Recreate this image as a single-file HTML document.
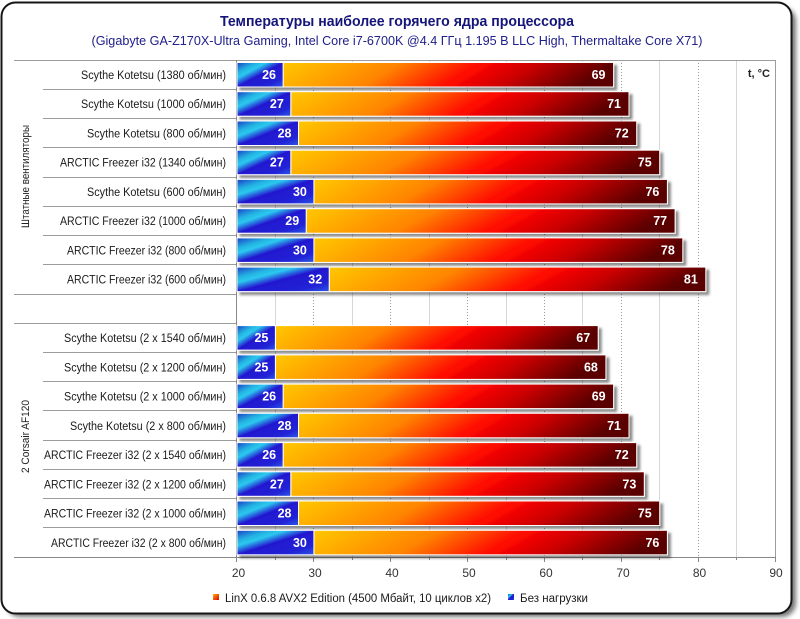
<!DOCTYPE html>
<html><head><meta charset="utf-8"><style>
html,body{margin:0;padding:0;background:#fff;}
svg{display:block;}
text{font-family:"Liberation Sans","DejaVu Sans",sans-serif;}
</style></head><body>
<svg width="800" height="619" viewBox="0 0 800 619" xmlns="http://www.w3.org/2000/svg">
<defs>
<filter id="fs" x="-5%" y="-5%" width="115%" height="115%"><feGaussianBlur stdDeviation="2.5"/></filter>
<filter id="sh" x="-5%" y="-20%" width="115%" height="160%"><feDropShadow dx="3" dy="3" stdDeviation="1.2" flood-color="#000" flood-opacity="0.45"/></filter>
<linearGradient id="gb" x1="0" y1="0" x2="1" y2="1">
<stop offset="0" stop-color="#1a3ec8"/>
<stop offset="0.22" stop-color="#24b4e2"/>
<stop offset="0.32" stop-color="#2cc8ee"/>
<stop offset="0.5" stop-color="#2418d0"/>
<stop offset="0.8" stop-color="#2222d6"/>
<stop offset="1" stop-color="#2c58e8"/>
</linearGradient>
<linearGradient id="go" x1="0" y1="0" x2="1" y2="0.12">
<stop offset="0" stop-color="#ffc800"/>
<stop offset="0.35" stop-color="#ff8400"/>
<stop offset="0.6" stop-color="#ff0800"/>
<stop offset="0.76" stop-color="#cc0000"/>
<stop offset="1" stop-color="#5a0000"/>
</linearGradient>
<linearGradient id="gl" x1="0" y1="0" x2="1" y2="1">
<stop offset="0" stop-color="#ffb000"/><stop offset="1" stop-color="#e00000"/>
</linearGradient>
</defs>

<!-- frame -->
<rect x="6" y="7" width="790" height="610" rx="14" fill="#777" filter="url(#fs)"/>
<rect x="1.5" y="2.5" width="790" height="611" rx="14" fill="#fff" stroke="#151515" stroke-width="2"/>

<!-- title -->
<text x="397" y="26" text-anchor="middle" font-size="14.5" font-weight="bold" fill="#14147a" textLength="354" lengthAdjust="spacingAndGlyphs">Температуры наиболее горячего ядра процессора</text>
<text x="397" y="45" text-anchor="middle" font-size="13" fill="#20208c" textLength="611" lengthAdjust="spacingAndGlyphs">(Gigabyte GA-Z170X-Ultra Gaming, Intel Core i7-6700K @4.4 ГГц 1.195 В LLC High, Thermaltake Core X71)</text>

<!-- grid -->
<g stroke="#d6d6d6" stroke-width="1">
<line x1="275.5" y1="60" x2="275.5" y2="557"/>
<line x1="352.5" y1="60" x2="352.5" y2="557"/>
<line x1="429.5" y1="60" x2="429.5" y2="557"/>
<line x1="506.5" y1="60" x2="506.5" y2="557"/>
<line x1="582.5" y1="60" x2="582.5" y2="557"/>
<line x1="659.5" y1="60" x2="659.5" y2="557"/>
<line x1="736.5" y1="60" x2="736.5" y2="557"/>
</g>
<g stroke="#9a9a9a" stroke-width="1" stroke-dasharray="1 2">
<line x1="313.5" y1="60" x2="313.5" y2="557"/>
<line x1="390.5" y1="60" x2="390.5" y2="557"/>
<line x1="467.5" y1="60" x2="467.5" y2="557"/>
<line x1="544.5" y1="60" x2="544.5" y2="557"/>
<line x1="621.5" y1="60" x2="621.5" y2="557"/>
<line x1="698.5" y1="60" x2="698.5" y2="557"/>
</g>

<!-- frame lines -->
<g stroke="#9c9c9c" stroke-width="1">
<line x1="14" y1="60.5" x2="775.5" y2="60.5"/>
<line x1="775.5" y1="60" x2="775.5" y2="557"/>
<line x1="14" y1="294.5" x2="237" y2="294.5"/>
<line x1="14" y1="323.5" x2="237" y2="323.5"/>
<line x1="43" y1="89.5" x2="237" y2="89.5"/>
<line x1="43" y1="118.5" x2="237" y2="118.5"/>
<line x1="43" y1="147.5" x2="237" y2="147.5"/>
<line x1="43" y1="177.5" x2="237" y2="177.5"/>
<line x1="43" y1="206.5" x2="237" y2="206.5"/>
<line x1="43" y1="235.5" x2="237" y2="235.5"/>
<line x1="43" y1="264.5" x2="237" y2="264.5"/>
<line x1="43" y1="352.5" x2="237" y2="352.5"/>
<line x1="43" y1="381.5" x2="237" y2="381.5"/>
<line x1="43" y1="410.5" x2="237" y2="410.5"/>
<line x1="43" y1="440.5" x2="237" y2="440.5"/>
<line x1="43" y1="469.5" x2="237" y2="469.5"/>
<line x1="43" y1="498.5" x2="237" y2="498.5"/>
<line x1="43" y1="527.5" x2="237" y2="527.5"/>
</g>
<g stroke="#888" stroke-width="1">
<line x1="14" y1="557.5" x2="775.5" y2="557.5"/>
<line x1="236.5" y1="60" x2="236.5" y2="562"/>
<line x1="313.5" y1="557" x2="313.5" y2="562"/>
<line x1="390.5" y1="557" x2="390.5" y2="562"/>
<line x1="467.5" y1="557" x2="467.5" y2="562"/>
<line x1="544.5" y1="557" x2="544.5" y2="562"/>
<line x1="621.5" y1="557" x2="621.5" y2="562"/>
<line x1="698.5" y1="557" x2="698.5" y2="562"/>
<line x1="775.5" y1="557" x2="775.5" y2="562"/>
<line x1="275.5" y1="557" x2="275.5" y2="560"/>
<line x1="352.5" y1="557" x2="352.5" y2="560"/>
<line x1="429.5" y1="557" x2="429.5" y2="560"/>
<line x1="506.5" y1="557" x2="506.5" y2="560"/>
<line x1="582.5" y1="557" x2="582.5" y2="560"/>
<line x1="659.5" y1="557" x2="659.5" y2="560"/>
<line x1="736.5" y1="557" x2="736.5" y2="560"/>
</g>

<!-- t, °C -->
<text x="770" y="77" text-anchor="end" font-size="11" font-weight="bold" fill="#222">t, °C</text>

<!-- group labels -->
<text transform="translate(29,176.5) rotate(-90)" text-anchor="middle" font-size="11" fill="#222" textLength="103" lengthAdjust="spacingAndGlyphs">Штатные  вентиляторы</text>
<text transform="translate(29,436.5) rotate(-90)" text-anchor="middle" font-size="11" fill="#222" textLength="73" lengthAdjust="spacingAndGlyphs">2  Corsair  AF120</text>

<!-- category labels -->
<g font-size="11.5" fill="#1a1a1a" text-anchor="end" lengthAdjust="spacingAndGlyphs">
<text x="226" y="79" textLength="145" lengthAdjust="spacingAndGlyphs">Scythe Kotetsu (1380 об/мин)</text>
<text x="226" y="108.2" textLength="145" lengthAdjust="spacingAndGlyphs">Scythe Kotetsu (1000 об/мин)</text>
<text x="226" y="137.5" textLength="139" lengthAdjust="spacingAndGlyphs">Scythe Kotetsu (800 об/мин)</text>
<text x="226" y="166.7" textLength="166" lengthAdjust="spacingAndGlyphs">ARCTIC Freezer i32 (1340 об/мин)</text>
<text x="226" y="195.9" textLength="139" lengthAdjust="spacingAndGlyphs">Scythe Kotetsu (600 об/мин)</text>
<text x="226" y="225.2" textLength="166" lengthAdjust="spacingAndGlyphs">ARCTIC Freezer i32 (1000 об/мин)</text>
<text x="226" y="254.4" textLength="159" lengthAdjust="spacingAndGlyphs">ARCTIC Freezer i32 (800 об/мин)</text>
<text x="226" y="283.6" textLength="159" lengthAdjust="spacingAndGlyphs">ARCTIC Freezer i32 (600 об/мин)</text>
<text x="226" y="342.1" textLength="162" lengthAdjust="spacingAndGlyphs">Scythe Kotetsu (2 x 1540 об/мин)</text>
<text x="226" y="371.4" textLength="162" lengthAdjust="spacingAndGlyphs">Scythe Kotetsu (2 x 1200 об/мин)</text>
<text x="226" y="400.6" textLength="162" lengthAdjust="spacingAndGlyphs">Scythe Kotetsu (2 x 1000 об/мин)</text>
<text x="226" y="429.8" textLength="156" lengthAdjust="spacingAndGlyphs">Scythe Kotetsu (2 x 800 об/мин)</text>
<text x="226" y="459.1" textLength="182" lengthAdjust="spacingAndGlyphs">ARCTIC Freezer i32 (2 x 1540 об/мин)</text>
<text x="226" y="488.3" textLength="182" lengthAdjust="spacingAndGlyphs">ARCTIC Freezer i32 (2 x 1200 об/мин)</text>
<text x="226" y="517.5" textLength="182" lengthAdjust="spacingAndGlyphs">ARCTIC Freezer i32 (2 x 1000 об/мин)</text>
<text x="226" y="546.8" textLength="175" lengthAdjust="spacingAndGlyphs">ARCTIC Freezer i32 (2 x 800 об/мин)</text>
</g>

<!-- bars -->
<g stroke="#fff" stroke-width="1">
<g filter="url(#sh)"><rect x="283.1" y="62.5" width="330.5" height="24.5" fill="url(#go)"/><rect x="237" y="62.5" width="46.1" height="24.5" fill="url(#gb)"/></g>
<g filter="url(#sh)"><rect x="290.8" y="91.7" width="338.2" height="24.5" fill="url(#go)"/><rect x="237" y="91.7" width="53.8" height="24.5" fill="url(#gb)"/></g>
<g filter="url(#sh)"><rect x="298.5" y="121" width="338.2" height="24.5" fill="url(#go)"/><rect x="237" y="121" width="61.5" height="24.5" fill="url(#gb)"/></g>
<g filter="url(#sh)"><rect x="290.8" y="150.2" width="368.9" height="24.5" fill="url(#go)"/><rect x="237" y="150.2" width="53.8" height="24.5" fill="url(#gb)"/></g>
<g filter="url(#sh)"><rect x="313.9" y="179.4" width="353.5" height="24.5" fill="url(#go)"/><rect x="237" y="179.4" width="76.9" height="24.5" fill="url(#gb)"/></g>
<g filter="url(#sh)"><rect x="306.2" y="208.7" width="368.9" height="24.5" fill="url(#go)"/><rect x="237" y="208.7" width="69.2" height="24.5" fill="url(#gb)"/></g>
<g filter="url(#sh)"><rect x="313.9" y="237.9" width="368.9" height="24.5" fill="url(#go)"/><rect x="237" y="237.9" width="76.9" height="24.5" fill="url(#gb)"/></g>
<g filter="url(#sh)"><rect x="329.2" y="267.1" width="376.6" height="24.5" fill="url(#go)"/><rect x="237" y="267.1" width="92.2" height="24.5" fill="url(#gb)"/></g>
<g filter="url(#sh)"><rect x="275.4" y="325.6" width="322.8" height="24.5" fill="url(#go)"/><rect x="237" y="325.6" width="38.4" height="24.5" fill="url(#gb)"/></g>
<g filter="url(#sh)"><rect x="275.4" y="354.9" width="330.5" height="24.5" fill="url(#go)"/><rect x="237" y="354.9" width="38.4" height="24.5" fill="url(#gb)"/></g>
<g filter="url(#sh)"><rect x="283.1" y="384.1" width="330.5" height="24.5" fill="url(#go)"/><rect x="237" y="384.1" width="46.1" height="24.5" fill="url(#gb)"/></g>
<g filter="url(#sh)"><rect x="298.5" y="413.3" width="330.5" height="24.5" fill="url(#go)"/><rect x="237" y="413.3" width="61.5" height="24.5" fill="url(#gb)"/></g>
<g filter="url(#sh)"><rect x="283.1" y="442.6" width="353.6" height="24.5" fill="url(#go)"/><rect x="237" y="442.6" width="46.1" height="24.5" fill="url(#gb)"/></g>
<g filter="url(#sh)"><rect x="290.8" y="471.8" width="353.5" height="24.5" fill="url(#go)"/><rect x="237" y="471.8" width="53.8" height="24.5" fill="url(#gb)"/></g>
<g filter="url(#sh)"><rect x="298.5" y="501" width="361.2" height="24.5" fill="url(#go)"/><rect x="237" y="501" width="61.5" height="24.5" fill="url(#gb)"/></g>
<g filter="url(#sh)"><rect x="313.9" y="530.3" width="353.5" height="24.5" fill="url(#go)"/><rect x="237" y="530.3" width="76.9" height="24.5" fill="url(#gb)"/></g>
</g>

<!-- bar values -->
<g font-size="12.5" font-weight="bold" fill="#fff" text-anchor="end">
<text x="276" y="79">26</text><text x="605.5" y="79">69</text>
<text x="283.8" y="108.2">27</text><text x="621" y="108.2">71</text>
<text x="291.5" y="137.5">28</text><text x="628.7" y="137.5">72</text>
<text x="283.8" y="166.7">27</text><text x="651.7" y="166.7">75</text>
<text x="306.9" y="195.9">30</text><text x="659.4" y="195.9">76</text>
<text x="299.2" y="225.2">29</text><text x="667.1" y="225.2">77</text>
<text x="306.9" y="254.4">30</text><text x="674.8" y="254.4">78</text>
<text x="322.2" y="283.6">32</text><text x="697.8" y="283.6">81</text>
<text x="268.4" y="342.1">25</text><text x="590.2" y="342.1">67</text>
<text x="268.4" y="371.4">25</text><text x="597.9" y="371.4">68</text>
<text x="276.1" y="400.6">26</text><text x="605.6" y="400.6">69</text>
<text x="291.5" y="429.8">28</text><text x="621" y="429.8">71</text>
<text x="276.1" y="459.1">26</text><text x="628.7" y="459.1">72</text>
<text x="283.8" y="488.3">27</text><text x="636.3" y="488.3">73</text>
<text x="291.5" y="517.5">28</text><text x="651.7" y="517.5">75</text>
<text x="306.9" y="546.8">30</text><text x="659.4" y="546.8">76</text>
</g>

<!-- axis labels -->
<g font-size="12" fill="#333" text-anchor="middle">
<text x="238.5" y="577">20</text>
<text x="315" y="577">30</text>
<text x="392" y="577">40</text>
<text x="469" y="577">50</text>
<text x="546" y="577">60</text>
<text x="623" y="577">70</text>
<text x="699.5" y="577">80</text>
<text x="776" y="577">90</text>
</g>

<!-- legend -->
<rect x="213" y="594" width="6" height="6" fill="url(#gl)"/>
<text x="225" y="602" font-size="11.5" fill="#1a1a1a" textLength="266" lengthAdjust="spacingAndGlyphs">LinX 0.6.8 AVX2 Edition (4500 Мбайт, 10 циклов x2)</text>
<rect x="508" y="594" width="6" height="6" fill="url(#gb)"/>
<text x="520" y="602" font-size="11.5" fill="#1a1a1a" textLength="68" lengthAdjust="spacingAndGlyphs">Без нагрузки</text>
</svg>
</body></html>
